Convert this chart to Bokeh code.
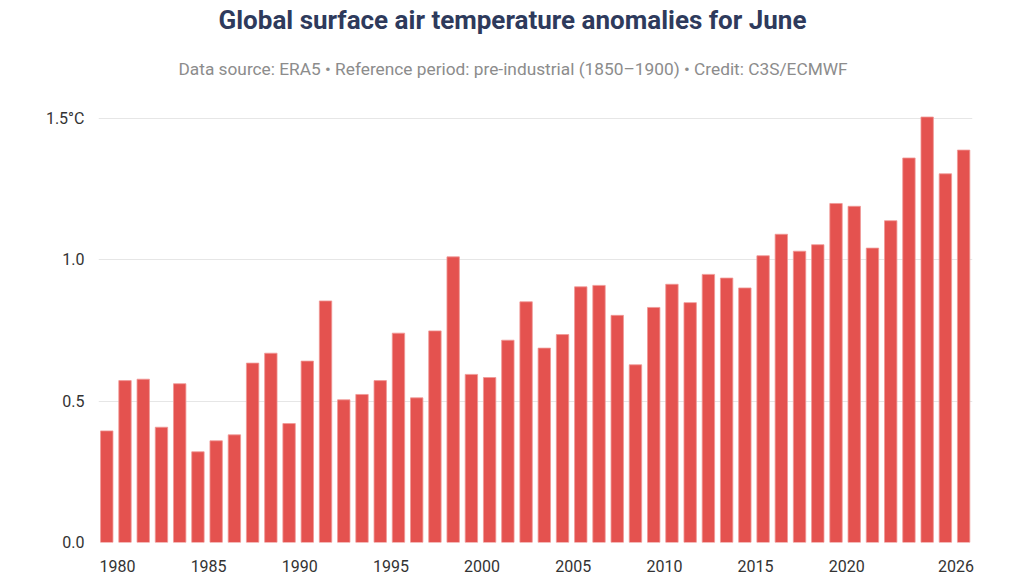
from bokeh.plotting import figure
from bokeh.models import FixedTicker, Title, Range1d, ColumnDataSource
from bokeh.embed import file_html
from bokeh.resources import INLINE

years = list(range(1979, 2027))
anomalies = [0.395, 0.573, 0.578, 0.408, 0.562, 0.321, 0.360, 0.381, 0.635, 0.670, 0.421,
             0.642, 0.855, 0.505, 0.524, 0.573, 0.741, 0.512, 0.749, 1.011, 0.595,
             0.584, 0.716, 0.852, 0.688, 0.736, 0.905, 0.910, 0.804, 0.629, 0.832,
             0.914, 0.849, 0.949, 0.936, 0.901, 1.015, 1.091, 1.031, 1.054, 1.200,
             1.190, 1.042, 1.139, 1.361, 1.506, 1.305, 1.389]
x_ticks = [1980, 1985, 1990, 1995, 2000, 2005, 2010, 2015, 2020, 2026]
y_ticks = [0, 0.5, 1.0, 1.5]
y_tick_labels = ["0.0", "0.5", "1.0", "1.5°C"]

title_text = "Global surface air temperature anomalies for June"
subtitle_text = "Data source: ERA5 • Reference period: pre-industrial (1850–1900) • Credit: C3S/ECMWF"

FONT = "Roboto"
JUNE = 151 / 365.0  # bars placed at 1 June of each year

src = ColumnDataSource(dict(x=[y + JUNE for y in years], top=anomalies))

p = figure(width=1024, height=585, output_backend="svg", toolbar_location=None,
           title=None,
           x_range=Range1d(1978.96, 2026.9), y_range=Range1d(0, 1.568),
           min_border_left=98, min_border_right=52, min_border_bottom=43,
           min_border_top=20)
p.outline_line_color = None
p.background_fill_color = "white"
p.border_fill_color = "white"

p.add_layout(Title(text=subtitle_text, align="left", text_font=FONT,
                   text_font_size="17.3px", text_font_style="normal",
                   text_color="#8c8c8c", standoff=41, offset=80), "above")
p.add_layout(Title(text=title_text, align="left", text_font=FONT,
                   text_font_size="26px", text_font_style="bold",
                   text_color="#2e3a5c", standoff=4, offset=120), "above")

p.vbar(x="x", top="top", bottom=0, width=0.68, source=src,
       fill_color="#e4524f", line_color="#f09896", line_width=0.8)

p.xaxis.ticker = FixedTicker(ticks=x_ticks)
p.xaxis.axis_line_color = None
p.xaxis.major_tick_line_color = None
p.xaxis.minor_tick_line_color = None
p.xaxis.major_label_text_font = FONT
p.xaxis.major_label_text_font_size = "16px"
p.xaxis.major_label_text_color = "#333333"
p.xaxis.major_label_standoff = 11
p.xaxis.major_label_overrides = {t: str(t) for t in x_ticks}

p.yaxis.ticker = FixedTicker(ticks=y_ticks)
p.yaxis.axis_line_color = None
p.yaxis.major_tick_line_color = None
p.yaxis.minor_tick_line_color = None
p.yaxis.major_label_text_font = FONT
p.yaxis.major_label_text_font_size = "16px"
p.yaxis.major_label_text_color = "#333333"
p.yaxis.major_label_standoff = 8
p.yaxis.major_label_overrides = {t: l for t, l in zip(y_ticks, y_tick_labels)}

p.xgrid.grid_line_color = None
p.ygrid.ticker = FixedTicker(ticks=y_ticks)
p.ygrid.grid_line_color = "#e6e6e6"
p.ygrid.grid_line_width = 1

open("out.html", "w").write(file_html(p, INLINE))
